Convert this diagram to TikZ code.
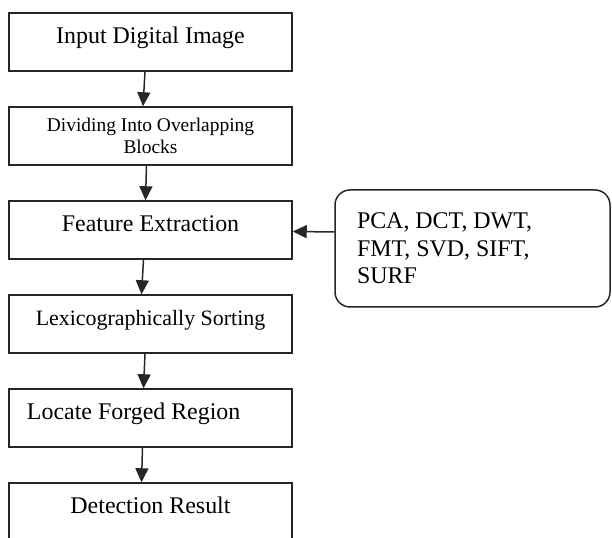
\documentclass[tikz,border=0pt]{standalone}
\usepackage{fontspec}
\setmainfont{Liberation Serif}
\usetikzlibrary{arrows.meta}

\tikzset{
  stage/.style={draw=black!85, line width=1.5bp, minimum width=283bp, minimum height=58bp,
    inner sep=0pt, font=\fontsize{24}{27.5}\selectfont, text height=17bp, text depth=13bp},
  flow/.style={draw=black!85, line width=1.5bp, -{Triangle[width=13bp,length=14bp]}}
}

\begin{document}
\begin{tikzpicture}[x=1bp,y=1bp]
      \clip (0,0) rectangle (612,538);
      \node[stage, font=\fontsize{19.5}{21.5}\selectfont, align=center, text height={}, text depth={}]
        (blocks) at (150.5,402) {Dividing Into Overlapping\\Blocks};
      \node[stage] (input) at (150.5,496) {Input Digital Image};
      \node[stage] (feature) at (150.5,308) {Feature Extraction};
      \node[stage, font=\fontsize{22}{25}\selectfont] (sorting) at (150.5,214) {Lexicographically Sorting};
      \node[stage, text width=247bp, align=flush left, inner xsep=18bp] (locate) at (150.5,120) {Locate Forged Region};
      \node[stage] (result) at (150.5,26) {Detection Result};
      \node[draw=black!85, line width=1.5bp, rounded corners=15bp, minimum width=275bp, minimum height=117bp,
        text width=231bp, align=flush left, inner xsep=22bp, font=\fontsize{24}{27.5}\selectfont]
        (methods) at (472.5,289.5) {PCA, DCT, DWT,\\FMT, SVD, SIFT,\\SURF};
      \draw[flow] ([xshift=-5.5bp]input.south) -- ([xshift=-7.5bp]blocks.north);
      \draw[flow] ([xshift=-4bp]blocks.south) -- ([xshift=-5bp]feature.north);
      \draw[flow] ([xshift=-7bp]feature.south) -- ([xshift=-9bp]sorting.north);
      \draw[flow] ([xshift=-5.5bp]sorting.south) -- ([xshift=-7bp]locate.north);
      \draw[flow] ([xshift=-8bp]locate.south) -- ([xshift=-9bp]result.north);
      \draw[flow] ([yshift=16.5bp]methods.west) -- ([yshift=-1.5bp]feature.east);
    \end{tikzpicture}
\end{document}
